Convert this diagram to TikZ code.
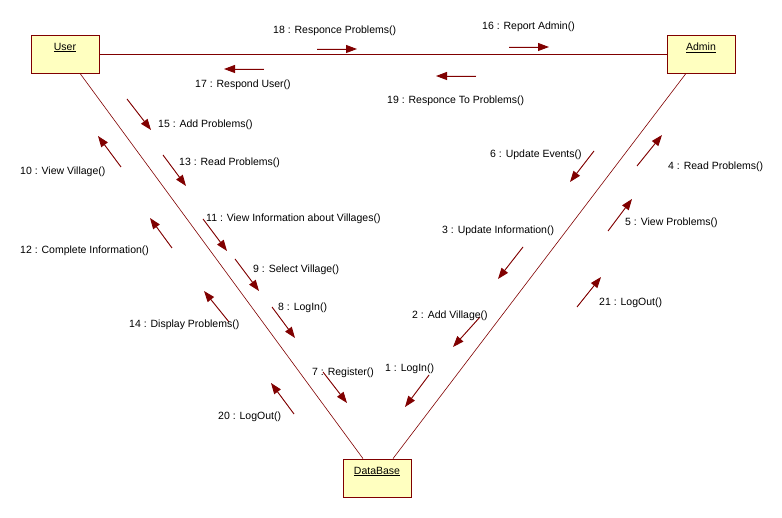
\documentclass[tikz,border=0pt]{standalone}
\usepackage{fontspec}
\setmainfont{Liberation Sans}
\usepackage{tikz}
\usetikzlibrary{positioning, arrows.meta, calc}
\usepackage{xcolor}
\definecolor{umlred}{HTML}{800000}
\definecolor{umlfill}{HTML}{FFFFC0}

\begin{document}
\begin{tikzpicture}[
  x=1pt, y=-1pt,
  every node/.style={font=\fontsize{10.5}{12}\selectfont},
  obj/.style={draw=umlred, fill=umlfill, line width=0.8pt,
              minimum width=68pt, minimum height=38pt, inner sep=0pt},
  objlbl/.style={anchor=center, yshift=-13pt, inner sep=0pt},
  link/.style={draw=umlred, line width=0.6pt},
  msg/.style={-{Triangle[length=11pt, width=8pt]}, draw=umlred, fill=umlred,
              line width=0.9pt},
  lbl/.style={anchor=west, inner sep=0pt}
]
\useasboundingbox (0,0) rectangle (782,518);

% objects
\node[obj, label={[objlbl]north:\underline{User}}] (user) at (65,54) {};
\node[obj, label={[objlbl]north:\underline{Admin}}] (admin) at (701,54) {};
\node[obj, label={[objlbl]north:\underline{DataBase}}] (db) at (377,478) {};

% links
\draw[link] (user) -- (admin);
\draw[link] ($(user.south)+(15,0)$) -- ($(db.north)+(-14,0)$);
\draw[link] ($(admin.south)+(-15,0)$) -- ($(db.north)+(16,0)$);

% messages
\foreach \n/\xa/\ya/\xb/\yb/\lx/\ly/\txt in {
    18/317/49/357/49/273/31/18 : Responce Problems(),
    16/509/47/549/47/482/27/16 : Report Admin(),
    17/264/69/224/69/195/85/17 : Respond User(),
    19/476/76/436/76/387/101/19 : Responce To Problems(),
    15/127/99/151/130/158/125/15 : Add Problems(),
    10/121/167/98/136/20/172/10 : View Village(),
    13/163/155/186/186/179/163/13 : Read Problems(),
    12/172/248/150/218/20/251/12 : Complete Information(),
    11/203/219/227/251/206/219/11 : View Information about Villages(),
    9/235/259/259/291/253/270/9 : Select Village(),
    8/272/307/295/338/278/308/8 : LogIn(),
    14/229/322/204/291/129/325/14 : Display Problems(),
    7/323/372/347/403/312/373/7 : Register(),
    20/294/414/271/383/218/417/20 : LogOut(),
    1/429/375/405/407/385/369/1 : LogIn(),
    2/480/317/453/347/412/316/2 : Add Village(),
    3/523/247/498/279/442/231/3 : Update Information(),
    6/594/151/570/182/490/155/6 : Update Events(),
    4/637/166/662/135/668/167/4 : Read Problems(),
    5/608/231/632/199/625/223/5 : View Problems(),
    21/577/307/601/277/599/303/21 : LogOut()} {
  \coordinate (s\n) at (\xa,\ya);
  \coordinate (e\n) at (\xb,\yb);
  \draw[msg] (s\n) -- (e\n);
  \node[lbl] (l\n) at (\lx,\ly) {\txt};
}
\end{tikzpicture}
\end{document}
